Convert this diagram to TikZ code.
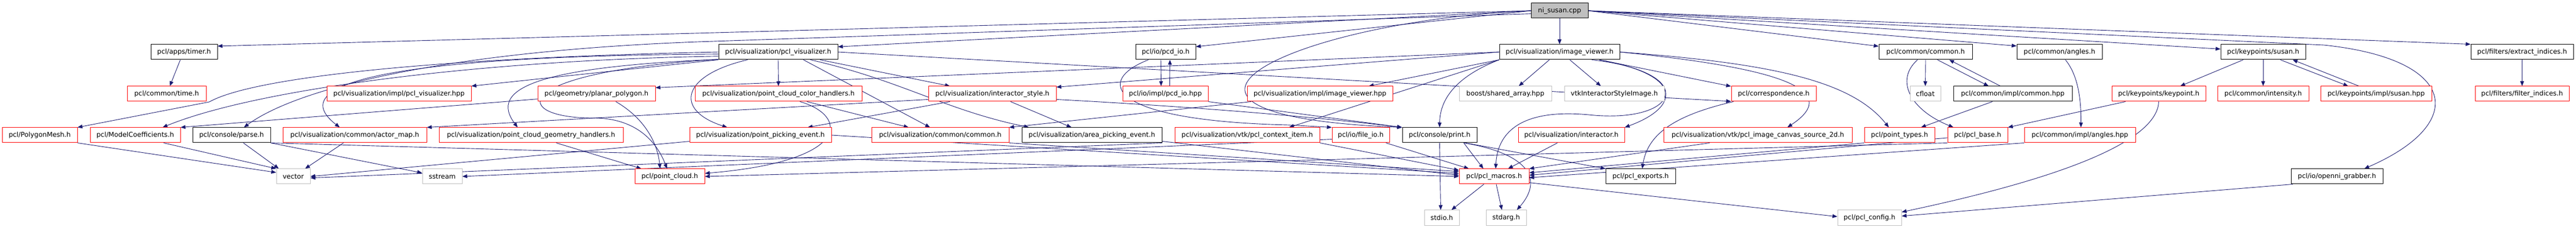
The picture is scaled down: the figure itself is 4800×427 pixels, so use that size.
\documentclass[tikz,border=0pt]{standalone}
\usepackage{fontspec}
\setmainfont{DejaVu Sans}
\usetikzlibrary{arrows.meta}
\pgfdeclarelayer{edges}
\pgfsetlayers{edges,main}
\definecolor{edgecol}{HTML}{191970}
\definecolor{grayb}{HTML}{BFBFBF}
\begin{document}
\begin{tikzpicture}[x=1pt,y=-1pt,
  box/.style={draw, rectangle, minimum height=28pt, inner sep=0pt, line width=1pt, fill=white, font=\fontsize{12.4}{14}\selectfont, text=black},
  nb/.style={box, draw=black},
  nr/.style={box, draw=red},
  ng/.style={box, draw=grayb},
  nroot/.style={box, draw=black, fill=grayb},
  dep/.style={draw=edgecol, line width=0.9pt, -{Triangle[length=9pt,width=7pt]}}
]
\useasboundingbox (0,0) rectangle (4800,427);
% row 0
\node[nroot, minimum width=106pt] (n0) at (2906,20) {ni\_susan.cpp};
% row 1
\node[nb, minimum width=124pt] (timer) at (343,97) {pcl/apps/timer.h};
\node[nb, minimum width=222pt] (vis) at (1450,97) {pcl/visualization/pcl\_visualizer.h};
\node[nb, minimum width=112pt] (pcdio) at (2172,97) {pcl/io/pcd\_io.h};
\node[nb, minimum width=224pt] (iv) at (2906,97) {pcl/visualization/image\_viewer.h};
\node[nb, minimum width=174pt] (cmn) at (3588,97) {pcl/common/common.h};
\node[nb, minimum width=159pt] (ang) at (3837.5,97) {pcl/common/angles.h};
\node[nb, minimum width=158pt] (susan) at (4217,97) {pcl/keypoints/susan.h};
\node[nb, minimum width=191pt] (extr) at (4699.5,97) {pcl/filters/extract\_indices.h};
% row 2
\node[nr, minimum width=147pt] (time) at (310.5,175) {pcl/common/time.h};
\node[nr, minimum width=269pt] (vishpp) at (743.5,175) {pcl/visualization/impl/pcl\_visualizer.hpp};
\node[nr, minimum width=219pt] (planar) at (1111.5,175) {pcl/geometry/planar\_polygon.h};
\node[nr, minimum width=311pt] (color) at (1450.5,175) {pcl/visualization/point\_cloud\_color\_handlers.h};
\node[nr, minimum width=238pt] (istyle) at (1849,175) {pcl/visualization/interactor\_style.h};
\node[nr, minimum width=159pt] (pcdhpp) at (2171.5,175) {pcl/io/impl/pcd\_io.hpp};
\node[nr, minimum width=271pt] (ivhpp) at (2459.5,175) {pcl/visualization/impl/image\_viewer.hpp};
\node[ng, minimum width=172pt] (sharr) at (2805,175) {boost/shared\_array.hpp};
\node[ng, minimum width=186pt] (vtkisi) at (3008,175) {vtkInteractorStyleImage.h};
\node[nr, minimum width=158pt] (corr) at (3305,175) {pcl/correspondence.h};
\node[ng, minimum width=57pt] (cfloat) at (3587.5,175) {cfloat};
\node[nb, minimum width=221pt] (cmnhpp) at (3750.5,175) {pcl/common/impl/common.hpp};
\node[nr, minimum width=175pt] (kp) at (4022.5,175) {pcl/keypoints/keypoint.h};
\node[nr, minimum width=170pt] (inten) at (4217,175) {pcl/common/intensity.h};
\node[nr, minimum width=207pt] (susanhpp) at (4427.5,175) {pcl/keypoints/impl/susan.hpp};
\node[nr, minimum width=175pt] (filt) at (4699.5,175) {pcl/filters/filter\_indices.h};
% row 3
\node[nr, minimum width=140pt] (mesh) at (74,252) {pcl/PolygonMesh.h};
\node[nr, minimum width=168pt] (modc) at (252,252) {pcl/ModelCoefficients.h};
\node[nb, minimum width=145pt] (parse) at (431.5,252) {pcl/console/parse.h};
\node[nr, minimum width=268pt] (amap) at (661,252) {pcl/visualization/common/actor\_map.h};
\node[nr, minimum width=343pt] (geom) at (989.5,252) {pcl/visualization/point\_cloud\_geometry\_handlers.h};
\node[nr, minimum width=264pt] (ppe) at (1417,252) {pcl/visualization/point\_picking\_event.h};
\node[nr, minimum width=256pt] (vcommon) at (1752,252) {pcl/visualization/common/common.h};
\node[nb, minimum width=261pt] (ape) at (2034.5,252) {pcl/visualization/area\_picking\_event.h};
\node[nr, minimum width=270pt] (ctx) at (2324,252) {pcl/visualization/vtk/pcl\_context\_item.h};
\node[nr, minimum width=107pt] (fileio) at (2535.5,252) {pcl/io/file\_io.h};
\node[nb, minimum width=139pt] (print) at (2682.5,252) {pcl/console/print.h};
\node[nr, minimum width=198pt] (inter) at (2928,252) {pcl/visualization/interactor.h};
\node[nr, minimum width=351pt] (canvas) at (3275.5,252) {pcl/visualization/vtk/pcl\_image\_canvas\_source\_2d.h};
\node[nr, minimum width=131pt] (ptypes) at (3539.5,252) {pcl/point\_types.h};
\node[nr, minimum width=112pt] (base) at (3685,252) {pcl/pcl\_base.h};
\node[nr, minimum width=207pt] (anghpp) at (3875.5,252) {pcl/common/impl/angles.hpp};
% row 4
\node[ng, minimum width=63pt] (vector) at (546.5,329) {vector};
\node[ng, minimum width=74pt] (sstream) at (824,329) {sstream};
\node[nr, minimum width=130pt] (pcloud) at (1248,329) {pcl/point\_cloud.h};
\node[nr, minimum width=130pt] (macros) at (2784,329) {pcl/pcl\_macros.h};
\node[nb, minimum width=130pt] (exports) at (3057,329) {pcl/pcl\_exports.h};
\node[nb, minimum width=171pt] (openni) at (4354.5,329) {pcl/io/openni\_grabber.h};
% row 5
\node[ng, minimum width=65pt] (stdio) at (2686.5,406) {stdio.h};
\node[ng, minimum width=75pt] (stdarg) at (2806.5,406) {stdarg.h};
\node[ng, minimum width=119pt] (config) at (3483.5,406) {pcl/pcl\_config.h};

\begin{pgfonlayer}{edges}
\fill[white] (0,0) rectangle (4800,427);
% from ni_susan.cpp
\draw[dep] (n0.west) -- (timer.10);
\draw[dep] (n0.west) -- (vis.5);
\draw[dep] (n0.west) -- (pcdio.10);
\draw[dep] (n0.south) -- (iv.north);
\draw[dep] (n0.east) -- (cmn.173);
\draw[dep] (n0.east) -- (ang.172);
\draw[dep] (n0.east) -- (susan.176);
\draw[dep] (n0.east) -- (extr.north west);
\draw[dep] (n0.east) -- (4330,84) .. controls (4580,110) and (4600,230) .. ([xshift=-35pt]openni.north east);
\draw[dep] (n0.186) -- (1300,78) .. controls (850,95) and (560,160) .. ([xshift=23pt]parse.north);
\draw[dep] (n0.west) .. controls (2400,40) and (2050,215) .. (print.north west);
% timer
\draw[dep] ([xshift=-7pt]timer.south) -- ([xshift=6pt]time.north);
% pcl_visualizer.h
\draw[dep] (vis.west) .. controls (800,108) and (470,145) .. (390,190) -- (mesh.north east);
\draw[dep] (vis.184) .. controls (900,112) and (480,165) .. ([xshift=51pt]modc.north);
\draw[dep] (vis.182) .. controls (760,104) and (520,150) .. ([xshift=-28pt]amap.north);
\draw[dep] (vis.south west) -- (vishpp.north east);
\draw[dep] (vis.187) .. controls (1000,125) and (910,165) .. ([xshift=-25pt]geom.north);
\draw[dep] (vis.187) .. controls (940,135) and (950,222) .. (1110,220) .. controls (1190,222) and (1225,268) .. ([xshift=-5pt]pcloud.north);
\draw[dep] ([xshift=-57pt]vis.south) .. controls (1270,140) and (1255,205) .. ([xshift=-62pt]ppe.north);
\draw[dep] (vis.south) -- (color.north);
\draw[dep] ([xshift=78pt]vis.south) -- ([xshift=-79pt]istyle.north);
\draw[dep] ([xshift=47pt]vis.south) -- ([xshift=-19pt]vcommon.north);
\draw[dep] ([xshift=60pt]vis.south) .. controls (1680,150) and (1760,205) .. ([xshift=-117pt]ape.north);
\draw[dep] (vis.east) -- (corr.190);
% image_viewer.h
\draw[dep] ([xshift=-19pt]iv.south) -- ([xshift=25pt]sharr.north);
\draw[dep] ([xshift=19pt]iv.south) -- ([xshift=-25pt]vtkisi.north);
\draw[dep] (iv.south west) -- ([xshift=91pt]ivhpp.north);
\draw[dep] (iv.south west) .. controls (2720,140) and (2683,180) .. (print.north);
\draw[dep] (iv.south west) -- ([xshift=78pt]ctx.north);
\draw[dep] ([xshift=74pt]iv.south) .. controls (3140,140) and (3130,200) .. (inter.north east);
\draw[dep] ([xshift=60pt]iv.south) .. controls (3170,135) and (3130,232) .. (2960,214) .. controls (2830,202) and (2790,250) .. ([xshift=3pt]macros.north);
\draw[dep] (iv.east) .. controls (3300,125) and (3440,165) .. ([xshift=55pt]canvas.north);
\draw[dep] (iv.east) .. controls (3300,118) and (3450,150) .. ([xshift=-20pt]ptypes.north);
\draw[dep] ([xshift=74pt]iv.south) -- (corr.170);
\draw[dep] (iv.west) -- (planar.6);
\draw[dep] (iv.west) -- (istyle.6);
% pcd_io
\draw[dep] ([xshift=-9pt]pcdio.south) -- ([xshift=-8pt]pcdhpp.north);
\draw[dep] ([xshift=8pt]pcdhpp.north) -- ([xshift=8pt]pcdio.south);
\draw[dep] ([xshift=-32pt]pcdio.south) .. controls (2040,150) and (2060,225) .. (2400,233) -- (fileio.north west);
\draw[dep] (pcdhpp.south east) -- (print.north west);
% interactor_style
\draw[dep] (istyle.185) -- (amap.north east);
\draw[dep] ([xshift=-79pt]istyle.south) -- ([xshift=88pt]ppe.north);
\draw[dep] ([xshift=34pt]istyle.south) -- ([xshift=-38pt]ape.north);
\draw[dep] (istyle.-5) .. controls (2150,195) and (2400,212) .. (print.north west);
% impl/image_viewer.hpp
\draw[dep] ([xshift=-128pt]ivhpp.south) -- (vcommon.north east);
% planar_polygon
\draw[dep] (planar.185) -- (modc.north east);
\draw[dep] ([xshift=36pt]planar.south) .. controls (1200,220) and (1225,265) .. ([xshift=-18pt]pcloud.north);
% color handlers
\draw[dep] ([xshift=40pt]color.south) .. controls (1580,215) and (1590,300) .. (pcloud.5);
\draw[dep] ([xshift=53pt]color.south) -- ([xshift=-59pt]vcommon.north);
% geometry handlers
\draw[dep] ([xshift=47pt]geom.south) -- ([xshift=-53pt]pcloud.north);
% row 3 to row 4
\draw[dep] (ppe.185) -- (vector.east);
\draw[dep] (ppe.east) -- (macros.175);
\draw[dep] (vcommon.south east) -- (macros.172);
\draw[dep] (ape.south east) -- (vector.-5);
\draw[dep] (ape.-5) -- (macros.178);
\draw[dep] ([xshift=-21pt]amap.south) -- ([xshift=22pt]vector.north);
\draw[dep] ([xshift=22pt]parse.south) -- ([xshift=-27pt]vector.north);
\draw[dep] (parse.south east) -- (sstream.170);
\draw[dep] (parse.south east) -- (macros.west);
\draw[dep] (mesh.south east) -- (vector.167);
\draw[dep] ([xshift=53pt]modc.south) -- (vector.north west);
\draw[dep] (ctx.south east) -- (macros.170);
\draw[dep] ([xshift=47pt]fileio.south) -- ([xshift=-47pt]macros.north);
\draw[dep] (fileio.188) -- (sstream.east);
\draw[dep] (print.south) -- ([xshift=-2pt]stdio.north);
\draw[dep] ([xshift=45pt]print.south) -- ([xshift=-20pt]macros.north);
\draw[dep] ([xshift=45pt]print.south) .. controls (2840,285) and (2880,330) .. ([xshift=20pt]stdarg.north);
\draw[dep] ([xshift=48pt]print.south) -- (exports.north west);
\draw[dep] ([xshift=-26pt]inter.south) -- ([xshift=26pt]macros.north);
\draw[dep] ([xshift=-90pt]canvas.south) -- (macros.north east);
\draw[dep] (ptypes.south west) -- (macros.6);
\draw[dep] (base.185) -- (macros.2);
\draw[dep] (base.south west) -- (pcloud.east);
\draw[dep] (anghpp.south west) -- (macros.-2);
\draw[dep] ([xshift=-75pt]corr.south) .. controls (3120,215) and (3070,250) .. ([xshift=3pt]exports.north);
% common
\draw[dep] (cmn.south) -- (cfloat.north);
\draw[dep] ([xshift=22pt]cmn.south) -- ([xshift=-45pt]cmnhpp.north);
\draw[dep] ([xshift=-23pt]cmnhpp.north) -- ([xshift=44pt]cmn.south);
\draw[dep] ([xshift=-15pt]cmn.south) .. controls (3530,150) and (3560,205) .. ([xshift=-45pt]base.north);
\draw[dep] ([xshift=-38pt]cmnhpp.south) -- ([xshift=40pt]ptypes.north);
\draw[dep] ([xshift=11pt]ang.south) .. controls (3872,140) and (3878,185) .. ([xshift=2pt]anghpp.north);
% keypoints
\draw[dep] ([xshift=-37pt]susan.south) -- ([xshift=40pt]kp.north);
\draw[dep] (susan.south) -- (inten.north);
\draw[dep] ([xshift=32pt]susan.south) -- ([xshift=-52pt]susanhpp.north);
\draw[dep] ([xshift=-32pt]susanhpp.north) -- ([xshift=55pt]susan.south);
\draw[dep] ([xshift=-62pt]kp.south) -- (base.north east);
\draw[dep] (kp.south) .. controls (4020,250) and (3900,320) .. (config.10);
\draw[dep] (extr.south) -- (filt.north);
\draw[dep] (openni.190) -- (config.3);
% pcl_macros
\draw[dep] ([xshift=-19pt]macros.south) -- ([xshift=18pt]stdio.north);
\draw[dep] ([xshift=4pt]macros.south) -- ([xshift=-8pt]stdarg.north);
\draw[dep] (macros.-10) -- (config.178);
\end{pgfonlayer}
\end{tikzpicture}
\end{document}
